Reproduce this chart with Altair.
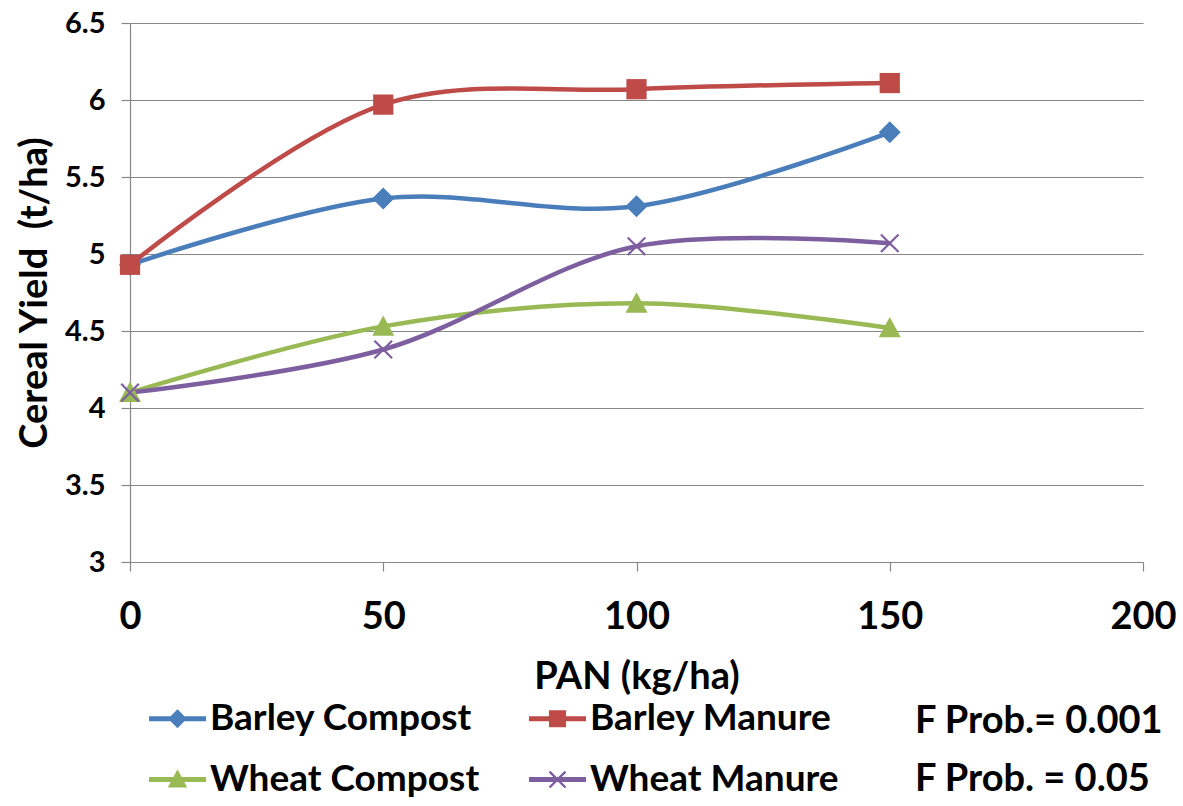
import altair as alt
import pandas as pd

# ---- data ----
series_names = ["Barley Compost", "Barley Manure", "Wheat Compost", "Wheat Manure"]
pan = [0, 50, 100, 150]
barley_compost = [4.93, 5.36, 5.31, 5.79]
barley_manure = [4.93, 5.97, 6.07, 6.11]
wheat_compost = [4.10, 4.53, 4.68, 4.52]
wheat_manure = [4.10, 4.38, 5.05, 5.07]
f_prob_texts = ["F Prob.= 0.001", "F Prob. = 0.05"]
y_ticks = [3, 3.5, 4, 4.5, 5, 5.5, 6, 6.5]
x_ticks = [0, 50, 100, 150, 200]

rows = []
for name, vals in zip(series_names, [barley_compost, barley_manure, wheat_compost, wheat_manure]):
    for p, v in zip(pan, vals):
        rows.append({"series": name, "pan": p, "yield": v})
df = pd.DataFrame(rows)
df["order"] = df["series"].map({n: i for i, n in enumerate(series_names)})

colors = ["#4A7EBB", "#BE4B48", "#98B954", "#7D5FA0"]
FONT = "Lato"

# ---- marker paths (unit box -1..1) ----
def x_path(a, d):
    return (f"M{-a+d},{-a-d}L{a+d},{a-d}L{a-d},{a+d}L{-a-d},{-a+d}Z"
            f"M{a-d},{-a-d}L{a+d},{-a+d}L{-a+d},{a+d}L{-a-d},{a-d}Z")

plot_shapes = [
    "M0,-1L1,0L0,1L-1,0Z",
    "M-0.92,-0.92L0.92,-0.92L0.92,0.92L-0.92,0.92Z",
    "M0,-1L1,0.85L-1,0.85Z",
    x_path(0.8, 0.07),
]
line_bar = "M-1,-0.085L1,-0.085L1,0.085L-1,0.085Z"
legend_shapes = [
    line_bar + "M0,-0.33L0.33,0L0,0.33L-0.33,0Z",
    line_bar + "M-0.3,-0.3L0.3,-0.3L0.3,0.3L-0.3,0.3Z",
    line_bar + "M0,-0.36L0.34,0.28L-0.34,0.28Z",
    line_bar + x_path(0.28, 0.03),
]

x_enc = alt.X("pan:Q",
              scale=alt.Scale(domain=[0, 200], nice=False),
              axis=alt.Axis(values=x_ticks, title="PAN (kg/ha)", grid=False, labelFlush=False,
                            labelFontSize=38, labelPadding=27, tickSize=9,
                            titleFontSize=38, titlePadding=22))
y_enc = alt.Y("yield:Q",
              scale=alt.Scale(domain=[3, 6.5], nice=False, zero=False),
              axis=alt.Axis(values=y_ticks, format="~g", title="Cereal Yield\u00a0 (t/ha)",
                            grid=True, labelFlush=False, labelFontSize=29, labelPadding=16, tickSize=9,
                            titleFontSize=38, titlePadding=10))

color_scale = alt.Scale(domain=series_names, range=colors)

lines = alt.Chart(df).mark_line(interpolate="catmull-rom", strokeWidth=4.5).encode(
    x=x_enc, y=y_enc,
    color=alt.Color("series:N", scale=color_scale, legend=None),
    order="pan:Q",
)

points = alt.Chart(df).mark_point(filled=True, size=484, opacity=1).encode(
    x="pan:Q", y="yield:Q",
    color=alt.Color("series:N", scale=color_scale, legend=None),
    shape=alt.Shape("series:N", scale=alt.Scale(domain=series_names, range=plot_shapes), legend=None),
    order="order:Q",
)

legend_props = dict(title=None, orient="none", legendX=18, legendY=666, direction="horizontal",
                    columns=2, columnPadding=46, rowPadding=13,
                    symbolSize=3249, symbolOpacity=1,
                    labelFontSize=37, labelFont=FONT, labelFontWeight="bold",
                    labelColor="black", labelLimit=500, labelOffset=3, padding=0)

legend_layer = alt.Chart(df).mark_point(filled=True, size=3249, opacity=0).encode(
    x="pan:Q", y="yield:Q",
    color=alt.Color("series:N", scale=alt.Scale(domain=series_names, range=colors),
                    legend=alt.Legend(**legend_props)),
    shape=alt.Shape("series:N", scale=alt.Scale(domain=series_names, range=legend_shapes),
                    legend=alt.Legend(**legend_props)),
)

notes_df = pd.DataFrame({"text": f_prob_texts})

notes1 = alt.Chart(notes_df).transform_filter(alt.datum.text == f_prob_texts[0]).mark_text(
    align="left", baseline="middle", fontSize=38, font=FONT, fontWeight="bold", color="black"
).encode(x=alt.value(785), y=alt.value(699), text="text:N")

notes2 = alt.Chart(notes_df).transform_filter(alt.datum.text == f_prob_texts[1]).mark_text(
    align="left", baseline="middle", fontSize=38, font=FONT, fontWeight="bold", color="black"
).encode(x=alt.value(785), y=alt.value(757), text="text:N")

chart = alt.layer(alt.layer(lines, points), legend_layer, notes1, notes2).resolve_scale(
    color="independent", shape="independent"
).properties(
    width=1013, height=539,
    autosize=alt.AutoSizeParams(type="none"),
    padding={"left": 130, "top": 23, "right": 40, "bottom": 244},
    background="white",
).configure_view(stroke=None).configure_axis(
    labelFont=FONT, titleFont=FONT, labelFontWeight="bold", titleFontWeight="bold",
    labelColor="black", titleColor="black",
    domainColor="#878787", tickColor="#878787", gridColor="#878787",
    domainWidth=1.2, tickWidth=1.2, gridWidth=1.2,
)

chart.save("out.html", embed_options={"renderer": "svg", "actions": False})
